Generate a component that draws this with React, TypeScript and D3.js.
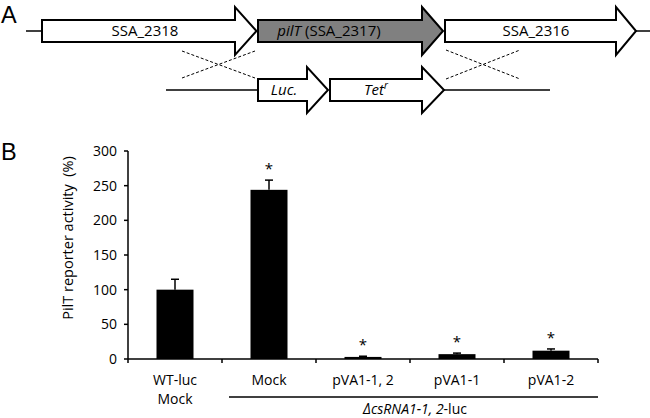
import React from "react";
import * as d3 from "d3";

const categories = ["WT-luc|Mock", "Mock", "pVA1-1, 2", "pVA1-1", "pVA1-2"];
const values = [100, 244, 3, 7, 12];
const errors = [15, 14, 1, 1.5, 2.5];
const significant = [false, true, true, true, true];
const yTicks = [0, 50, 100, 150, 200, 250, 300];
const geneLabels = ["SSA_2318", "SSA_2317", "SSA_2316"];
const cassetteLabels = ["Luc.", "Tet"];

const FONT = "'Open Sans', sans-serif";
const PANEL_FONT = "'Liberation Sans', Arial, sans-serif";

function arrowPath(x0: number, xs: number, xt: number, cy: number, sh: number, hh: number) {
  const p = d3.path();
  p.moveTo(x0, cy - sh);
  p.lineTo(xs, cy - sh);
  p.lineTo(xs, cy - hh);
  p.lineTo(xt, cy);
  p.lineTo(xs, cy + hh);
  p.lineTo(xs, cy + sh);
  p.lineTo(x0, cy + sh);
  p.closePath();
  return p.toString();
}

export default function App() {
  const W = 650, H = 418;
  const left = 128, right = 598, top = 151, bottom = 359;
  const y = d3.scaleLinear().domain([0, 300]).range([bottom, top]);
  const x = d3.scaleBand().domain(categories).range([left, right]).paddingInner(0).paddingOuter(0);
  const barW = 37;
  const bw = x.bandwidth();

  const topY = 31, lowY = 90;
  return (
    <svg width={W} height={H} style={{ position: "absolute", left: 0, top: 0, background: "#fff" }} fontFamily={FONT}>
      {/* Panel A */}
      <text x={1} y={22.5} fontSize={23.5} fontFamily={PANEL_FONT}>A</text>
      <line x1={26} x2={42} y1={topY} y2={topY} stroke="#000" strokeWidth={1.5} />
      <line x1={636} x2={650} y1={topY} y2={topY} stroke="#000" strokeWidth={1.5} />
      <path d={arrowPath(42, 235, 256.5, topY, 11, 24)} fill="#fff" stroke="#000" strokeWidth={2} strokeLinejoin="miter" />
      <path d={arrowPath(258, 422, 443, topY, 11, 24)} fill="#808080" stroke="#000" strokeWidth={2} />
      <path d={arrowPath(445, 616, 636, topY, 11, 24)} fill="#fff" stroke="#000" strokeWidth={2} />
      <text x={145} y={36} fontSize={15} textAnchor="middle">{geneLabels[0]}</text>
      <text x={329} y={36} fontSize={15} textAnchor="middle">
        <tspan fontStyle="italic">pilT</tspan> ({geneLabels[1]})
      </text>
      <text x={536} y={36} fontSize={15} textAnchor="middle">{geneLabels[2]}</text>
      {/* crosses */}
      <g stroke="#000" strokeWidth={1} strokeDasharray="3,2">
        <line x1={182} y1={51} x2={255} y2={78} />
        <line x1={182} y1={78} x2={255} y2={51} />
        <line x1={446} y1={50} x2={520} y2={79} />
        <line x1={446} y1={79} x2={520} y2={50} />
      </g>
      <line x1={166} x2={258} y1={lowY} y2={lowY} stroke="#000" strokeWidth={1.5} />
      <line x1={444} x2={550} y1={lowY} y2={lowY} stroke="#000" strokeWidth={1.5} />
      <path d={arrowPath(258, 307, 328, lowY, 11, 23)} fill="#fff" stroke="#000" strokeWidth={2} />
      <path d={arrowPath(330, 422, 444, lowY, 11, 23)} fill="#fff" stroke="#000" strokeWidth={2} />
      <text x={284} y={95} fontSize={15} textAnchor="middle" fontStyle="italic">{cassetteLabels[0]}</text>
      <text x={376} y={95} fontSize={15} textAnchor="middle" fontStyle="italic">
        {cassetteLabels[1]}<tspan fontSize={10} dy={-6}>r</tspan>
      </text>

      {/* Panel B */}
      <text x={1} y={160} fontSize={23.5} fontFamily={PANEL_FONT}>B</text>
      <text transform={`translate(73,238) rotate(-90)`} fontSize={14.5} textAnchor="middle" xmlSpace="preserve">
        PilT reporter activity  (%)
      </text>
      {yTicks.map((t) => (
        <g key={t}>
          <line x1={left - 4} x2={left} y1={y(t)} y2={y(t)} stroke="#000" strokeWidth={1.5} />
          <text x={117} y={y(t) + 5} fontSize={14} textAnchor="end">{t}</text>
        </g>
      ))}
      {categories.map((c, i) => {
        const cx = (x(c) as number) + bw / 2;
        const v = values[i];
        const e = errors[i];
        const lines = c.split("|");
        return (
          <g key={c}>
            <rect x={cx - barW / 2} y={y(v)} width={barW} height={bottom - y(v)} fill="#000" />
            <line x1={cx} x2={cx} y1={y(v)} y2={y(v + e)} stroke="#000" strokeWidth={1.5} />
            <line x1={cx - 4} x2={cx + 4} y1={y(v + e)} y2={y(v + e)} stroke="#000" strokeWidth={1.5} />
            {significant[i] && (
              <text x={cx} y={y(v + e) - 6} fontSize={15} textAnchor="middle">*</text>
            )}
            {lines.map((l, k) => (
              <text key={k} x={cx} y={385 + k * 19} fontSize={14} textAnchor="middle">{l}</text>
            ))}
          </g>
        );
      })}
      {d3.range(categories.length + 1).map((i) => {
        const xx = left + i * bw;
        return <line key={i} x1={xx} x2={xx} y1={bottom} y2={bottom + 4} stroke="#000" strokeWidth={1.5} />;
      })}
      <line x1={left} x2={left} y1={top} y2={bottom} stroke="#000" strokeWidth={1.5} />
      <line x1={left} x2={right} y1={bottom} y2={bottom} stroke="#000" strokeWidth={1.5} />
      <line x1={229} x2={598} y1={397} y2={397} stroke="#000" strokeWidth={1.5} />
      <text x={415} y={414} fontSize={14} textAnchor="middle">
        <tspan fontStyle="italic">ΔcsRNA1-1, 2</tspan>-luc
      </text>
    </svg>
  );
}
